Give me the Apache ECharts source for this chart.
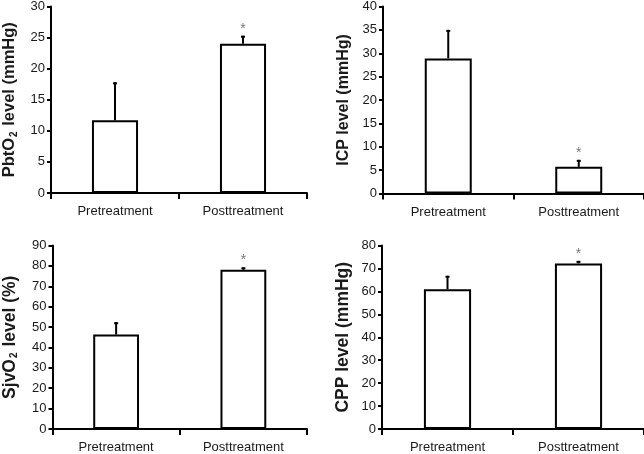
<!DOCTYPE html>
<html>
<head>
<meta charset="utf-8">
<script src="https://cdn.jsdelivr.net/npm/echarts@6/dist/echarts.min.js"></script>
<style>
html,body{margin:0;padding:0;background:#fff;}
#c{width:644px;height:454px;}
</style>
</head>
<body>
<div id="c"></div>
<script>
var categories = ['Pretreatment', 'Posttreatment'];
var pbto2Mean = [11.7, 24.0];
var pbto2Upper = [17.8, 25.3];
var icpMean = [28.9, 5.7];
var icpUpper = [35.0, 7.2];
var sjvo2Mean = [46.3, 78.1];
var sjvo2Upper = [52.4, 79.3];
var cppMean = [60.9, 72.2];
var cppUpper = [66.8, 73.3];
var significant = [false, true];
var yMax = [30, 40, 90, 80];
var yInterval = [5, 5, 10, 10];
var yTitles = [
  '{b|PbtO}{s|2}{b| level (mmHg)}',
  '{b|ICP level (mmHg)}',
  '{b|SjvO}{s|2}{b| level (%)}',
  '{b|CPP level (mmHg)}'
];

var means = [pbto2Mean, icpMean, sjvo2Mean, cppMean];
var uppers = [pbto2Upper, icpUpper, sjvo2Upper, cppUpper];

var grids = [
  {left: 51, top: 6, width: 256, height: 187},
  {left: 383, top: 6, width: 261, height: 187.5},
  {left: 51, top: 245.5, width: 256, height: 188.5},
  {left: 382, top: 245.5, width: 262, height: 188.5}
];
var titleSize = [16.5, 16, 17.5, 17.5];
var titleGap = [32, 31, 33, 30];

var txt = '#1a1a1a';
var xAxes = [], yAxes = [], series = [];
for (var i = 0; i < 4; i++) {
  xAxes.push({
    type: 'category', gridIndex: i, data: categories,
    axisLine: {lineStyle: {color: '#000', width: 2}},
    axisTick: {show: true, length: 6, lineStyle: {color: '#000', width: 2}},
    axisLabel: {color: txt, fontSize: 13, fontFamily: 'Liberation Sans, Arial', margin: 12}
  });
  yAxes.push({
    type: 'value', gridIndex: i, min: 0, max: yMax[i], interval: yInterval[i],
    name: yTitles[i], nameLocation: 'middle', nameRotate: 90, nameGap: titleGap[i],
    nameTextStyle: {
      rich: {
        b: {fontSize: titleSize[i], fontWeight: 'bold', color: txt, fontFamily: 'Liberation Sans, Arial'},
        s: {fontSize: 10, fontWeight: 'bold', color: txt, fontFamily: 'Liberation Sans, Arial', padding: [9, 1, 0, 1]}
      }
    },
    splitLine: {show: false},
    axisLine: {show: true, lineStyle: {color: '#000', width: 2}},
    axisTick: {show: true, length: 4, lineStyle: {color: '#000', width: 2}},
    axisLabel: {color: txt, fontSize: 13, fontFamily: 'Liberation Sans, Arial', margin: 6}
  });
  series.push({
    type: 'bar', xAxisIndex: i, yAxisIndex: i, barWidth: '36%',
    data: means[i],
    itemStyle: {color: '#fff', borderColor: '#000', borderWidth: 2},
    z: 3
  });
  var ed = [];
  for (var j = 0; j < categories.length; j++) {
    ed.push([j, means[i][j], uppers[i][j], significant[j] ? 1 : 0]);
  }
  series.push({
    type: 'custom', xAxisIndex: i, yAxisIndex: i, data: ed, z: 2,
    renderItem: function (params, api) {
      var x = api.value(0);
      var p0 = api.coord([x, api.value(1)]);
      var p1 = api.coord([x, api.value(2)]);
      var children = [
        {type: 'line', shape: {x1: p0[0], y1: p0[1], x2: p1[0], y2: p1[1]}, style: {stroke: '#000', lineWidth: 2}},
        {type: 'line', shape: {x1: p1[0] - 2, y1: p1[1] + 1, x2: p1[0] + 2, y2: p1[1] + 1}, style: {stroke: '#000', lineWidth: 2}}
      ];
      if (api.value(3)) {
        children.push({type: 'text', style: {text: '*', x: p1[0], y: p1[1] - 7, fontSize: 14, fill: '#777', align: 'center', verticalAlign: 'middle', fontFamily: 'Liberation Sans, Arial'}});
      }
      return {type: 'group', children: children};
    }
  });
}

var chart = echarts.init(document.getElementById('c'), null, {renderer: 'canvas'});
chart.setOption({
  animation: false,
  backgroundColor: '#fff',
  grid: grids,
  xAxis: xAxes,
  yAxis: yAxes,
  series: series
});
</script>
</body>
</html>
